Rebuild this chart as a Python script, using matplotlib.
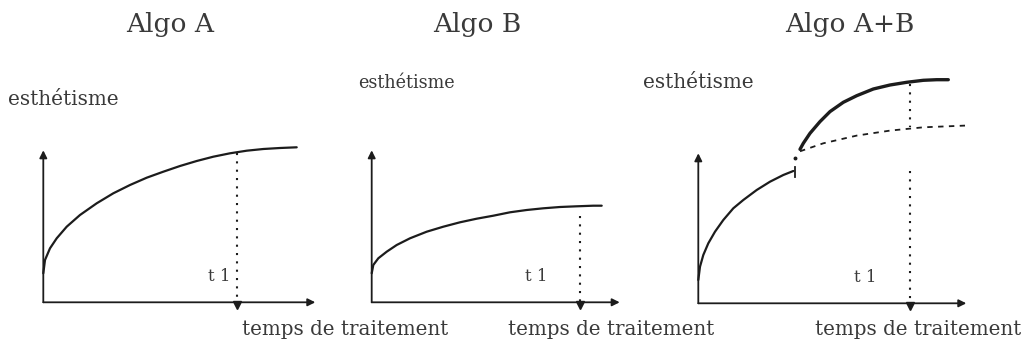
import matplotlib
matplotlib.use("Agg")
import matplotlib.pyplot as plt

# ---------------- data (local units: time right, aesthetics up) ----------------
titles = ["Algo A", "Algo B", "Algo A+B"]
y_label = "esthétisme"
x_label = "temps de traitement"
t1_label = "t 1"

# Algo A curve
algoA_t = [0, 1.7, 6.7, 13.4, 23.4, 36.7, 53.4, 70, 86.7, 103.4, 120, 136.7,
           153.4, 170, 186.7, 203.4, 220, 236.7, 253.4]
algoA_q = [29, 42.3, 54, 64, 75.6, 87.3, 99, 109, 117.3, 124.6, 130.6, 136.3,
           141.3, 145.6, 149, 151.6, 153.3, 154.3, 155]
t1_A = 194

# Algo B curve
algoB_t = [0, 1.6, 6.6, 15, 25, 38.3, 55, 71.6, 88.3, 105, 121.6, 138.3,
           155, 171.6, 188.3, 205, 221.6, 230]
algoB_q = [29, 37.3, 44, 50.6, 57.3, 64, 70.6, 75.6, 80, 83.6, 86.6, 90,
           92.3, 94, 95.3, 96, 96.6, 96.6]
t1_B = 208

# Algo A+B : first phase (algo A), second phase (algo B), continuation of A (dashed)
comboA_t = [0, 1.7, 5, 10, 16.7, 25, 35, 45, 58.4, 71.7, 85, 95]
comboA_q = [23.3, 36.6, 48.3, 60, 71.6, 83.3, 95, 103.3, 113.3, 121.6, 128.3, 132.3]
comboB_t = [101.7, 105, 111.7, 121.7, 131.7, 145, 158.4, 175, 191.7, 208.4,
            225, 238.4, 250]
comboB_q = [154, 160, 170, 181.7, 191.7, 201, 207.6, 214.3, 218.3, 221,
            223, 223.6, 223.6]
comboDash_t = [101.7, 125, 158.4, 191.7, 225, 266.7]
comboDash_q = [152, 160, 167.7, 172.7, 176, 177.7]
t1_C = 212

# ---------------- layout ----------------
W, H = 1027, 346
fig = plt.figure(figsize=(W / 100, H / 100), dpi=100)
fig.patch.set_facecolor("white")

LINE = "#1c1c1c"
TEXT = "#3a3a3a"
FONT = ["DejaVu Serif"]

# panel origins in pixels (x from left, y from top)
origins = [(43.3, 302.3), (371.7, 302.3), (698.3, 303.3)]
axis_len = [(272, 152), (248, 152), (268, 150)]


def make_ax(ox, oy):
    ax = fig.add_axes([0, 0, 1, 1])
    ax.set_xlim(-ox, W - ox)
    ax.set_ylim(oy - H, oy)
    ax.axis("off")
    return ax


def draw_axes(ax, xl, yl):
    ap = dict(arrowstyle="-|>", color=LINE, lw=1.3, mutation_scale=11,
              shrinkA=0, shrinkB=0)
    ax.annotate("", xy=(xl, 0), xytext=(0, 0), arrowprops=ap)
    ax.annotate("", xy=(0, yl), xytext=(0, 0), arrowprops=ap)


def t1_marker(ax, t):
    ax.plot([t], [-3], marker="v", color=LINE, markersize=6, clip_on=False)


def txt(ax, x, y, s, size, ha="left"):
    ax.text(x, y, s, ha=ha, va="baseline", fontsize=size, color=TEXT,
            family=FONT)


axes = [make_ax(*o) for o in origins]

# Panel A
ax = axes[0]
draw_axes(ax, *axis_len[0])
ax.plot(algoA_t, algoA_q, color=LINE, lw=1.6, solid_capstyle="round")
ax.plot([t1_A, t1_A], [149, 0], color=LINE, lw=1.5, ls=(0, (1, 3)))
t1_marker(ax, t1_A)
txt(ax, 126.7, 270, titles[0], 19, ha="center")
txt(ax, -35.3, 197.3, y_label, 14.4)
txt(ax, 198.7, -32.7, x_label, 14.3)
txt(ax, 176, 21, t1_label, 12, ha="center")

# Panel B
ax = axes[1]
draw_axes(ax, *axis_len[1])
ax.plot(algoB_t, algoB_q, color=LINE, lw=1.6, solid_capstyle="round")
ax.plot([t1_B, t1_B], [86, 0], color=LINE, lw=1.5, ls=(0, (1, 3)))
t1_marker(ax, t1_B)
txt(ax, 105.3, 270.5, titles[1], 19, ha="center")
txt(ax, -13.7, 214, y_label, 12.7)
txt(ax, 136.3, -32.7, x_label, 14.3)
txt(ax, 165, 21, t1_label, 12, ha="center")

# Panel C
ax = axes[2]
draw_axes(ax, *axis_len[2])
ax.plot(comboA_t, comboA_q, color=LINE, lw=1.6, solid_capstyle="round")
ax.plot([96.7, 96.7], [126.6, 136.6], color=LINE, lw=1.3)
ax.plot([96.7], [145], marker="o", color=LINE, markersize=1.8)
ax.plot(comboB_t, comboB_q, color=LINE, lw=2.4, solid_capstyle="round")
ax.plot(comboDash_t, comboDash_q, color=LINE, lw=1.3, ls=(0, (3, 3)))
ax.plot([t1_C, t1_C], [219, 176], color=LINE, lw=1.5, ls=(0, (1, 3)))
ax.plot([t1_C, t1_C], [132, 0], color=LINE, lw=1.5, ls=(0, (1, 3)))
t1_marker(ax, t1_C)
txt(ax, 151.7, 271.5, titles[2], 19, ha="center")
txt(ax, -55.3, 215, y_label, 14.4)
txt(ax, 116.7, -32, x_label, 14.3)
txt(ax, 167, 21, t1_label, 12, ha="center")

fig.savefig("out.png", dpi=100, facecolor="white")
